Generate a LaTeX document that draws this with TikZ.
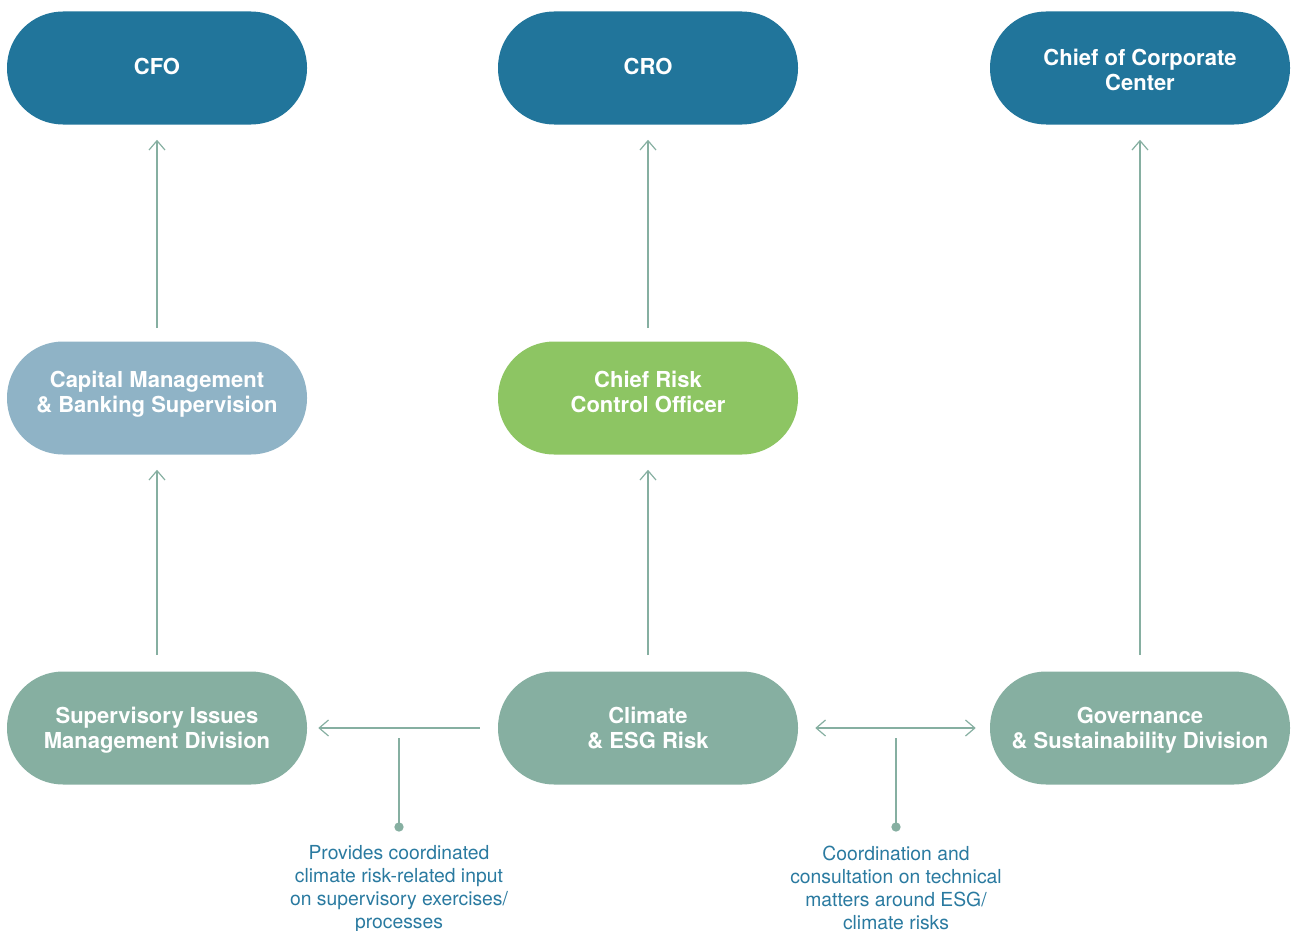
\documentclass[tikz,border=0pt]{standalone}
\usepackage{fontspec}
\setmainfont{TeX Gyre Heros}
\usetikzlibrary{arrows.meta}

\definecolor{darkblue}{HTML}{21759B}
\definecolor{paleblue}{HTML}{8FB3C6}
\definecolor{leafgreen}{HTML}{8DC563}
\definecolor{sage}{HTML}{86AFA1}
\definecolor{notetext}{HTML}{2A7AA0}

% text of a unit, moved down by #1 inside its box
\newcommand{\unittext}[2]{\raisebox{-#1}[\height][\depth]{\begin{tabular}{@{}c@{}}#2\end{tabular}}}

\begin{document}
\begin{tikzpicture}[x=0.75pt,y=-0.75pt,
    unit/.style={rectangle, rounded corners=42pt, minimum width=225pt, minimum height=84.75pt,
        text=white, font=\fontsize{16.5}{18.75}\selectfont\bfseries},
    link/.style={draw=sage, line width=0.9pt, -{Straight Barb[length=7pt,width=12pt]}},
    note/.style={text=notetext, align=center, font=\fontsize{14.5}{17.25}\selectfont}]

\useasboundingbox (0,0) rectangle (1292,931);

% top row
\node[unit, fill=darkblue] (cfo) at (157,68) {\unittext{1.5pt}{CFO}};
\node[unit, fill=darkblue] (cro) at (648,68) {\unittext{1.5pt}{CRO}};
\node[unit, fill=darkblue] (ccc) at (1140,68) {\unittext{4.1pt}{Chief of Corporate\\Center}};

% middle row
\node[unit, fill=paleblue] (cap) at (157,398) {\unittext{-1.9pt}{Capital Management\\\& Banking Supervision}};
\node[unit, fill=leafgreen] (crco) at (648,398) {\unittext{-1.9pt}{Chief Risk\\Control Officer}};

% bottom row
\node[unit, fill=sage] (sup) at (157,728) {\unittext{1.9pt}{Supervisory Issues\\Management Division}};
\node[unit, fill=sage] (esg) at (648,728) {\unittext{1.9pt}{Climate\\\& ESG Risk}};
\node[unit, fill=sage] (gov) at (1140,728) {\unittext{1.9pt}{Governance\\\& Sustainability Division}};

% reporting lines
\draw[link, shorten <=12pt, shorten >=11.25pt] (sup.north) -- (cap.south);
\draw[link, shorten <=9.75pt, shorten >=11.25pt] (cap.north) -- (cfo.south);
\draw[link, shorten <=12pt, shorten >=11.25pt] (esg.north) -- (crco.south);
\draw[link, shorten <=9.75pt, shorten >=11.25pt] (crco.north) -- (cro.south);
\draw[link, shorten <=12pt, shorten >=11.25pt] (gov.north) -- (ccc.south);

% side links
\draw[link, shorten <=13.5pt, shorten >=8.25pt] (esg.west) -- (sup.east);
\draw[link, {Straight Barb[length=7pt,width=12pt]}-{Straight Barb[length=7pt,width=12pt]},
    shorten <=12.75pt, shorten >=10.5pt] (esg.east) -- (gov.west);

% notes
\coordinate (leftpin) at (399,738);
\coordinate (leftdot) at (399,827);
\coordinate (rightpin) at (896,738);
\coordinate (rightdot) at (896,827);
\draw[sage, line width=0.9pt] (leftpin) -- (leftdot);
\draw[sage, line width=0.9pt] (rightpin) -- (rightdot);
\fill[sage] (leftdot) circle (3.5pt);
\fill[sage] (rightdot) circle (3.5pt);

\node[note, anchor=north] (leftnote) at (399,841) {Provides coordinated\\climate risk-related input\\on supervisory exercises/\\processes};
\node[note, anchor=north] (rightnote) at (896,841) {Coordination and\\consultation on technical\\matters around ESG/\\climate risks};
\end{tikzpicture}
\end{document}
